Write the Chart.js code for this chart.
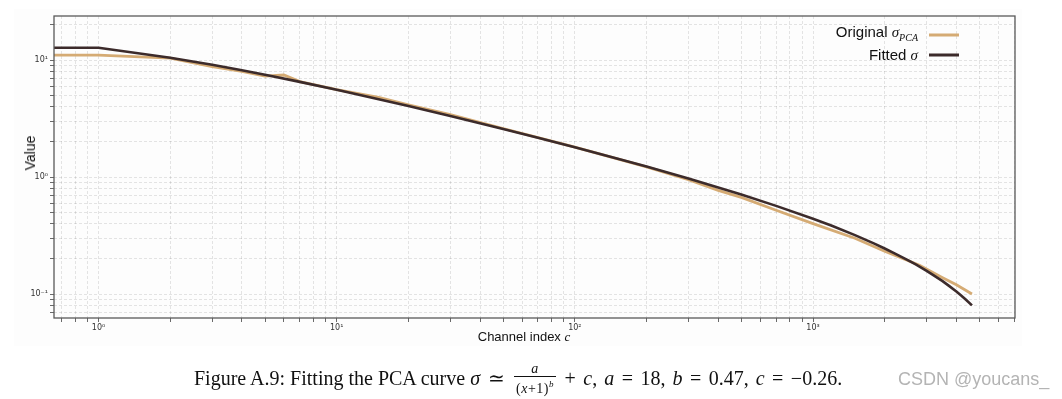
<!DOCTYPE html>
<html>
<head>
<meta charset="utf-8">
<script src="https://cdn.jsdelivr.net/npm/chart.js@4.4.0/dist/chart.umd.min.js"></script>
<style>
  html, body { margin: 0; padding: 0; background: #fff; }
  #wrap { position: relative; width: 1062px; height: 399px; overflow: hidden; }
  #panel { position: absolute; left: 14px; top: 9px; width: 1008px; height: 337px; background: #fdfdfd; }
  #chart { position: absolute; left: 0; top: 0; }
  .sans { font-family: "Liberation Sans", Arial, sans-serif; color: #111; position: absolute; white-space: nowrap; }
  #ytitle { left: 30px; top: 153px; font-size: 14px; transform: translate(-50%, -50%) rotate(-90deg); }
  #xtitle { left: 524px; top: 337px; font-size: 13px; transform: translate(-50%, -50%); }
  .legrow { position: absolute; right: 144px; font-size: 15px; transform: translateY(-50%); }
  .legrow i { font-family: "Liberation Serif", "Times New Roman", serif; }
  .legrow sub { font-size: 10px; font-style: italic; font-family: "Liberation Serif", serif; }
  .swatch { position: absolute; left: 929px; width: 30px; height: 3px; transform: translateY(-50%); }
  #caption { position: absolute; left: 194px; top: 364px; font-family: "Liberation Serif", "Times New Roman", serif; font-size: 20px; color: #111; white-space: nowrap; line-height: 20px; }
  #caption .op { margin: 0 7.5px; }
  #caption .sp { margin-left: 7px; }
  .frac { display: inline-block; vertical-align: middle; text-align: center; font-size: 14px; line-height: 13px; margin: 0 1px 0 2px; position: relative; top: -2px; letter-spacing: 0.5px; }
  .frac .num { display: block; border-bottom: 1px solid #111; padding: 0 2px 1px; }
  .frac .den { display: block; padding: 1px 2px 0; }
  .frac sup { font-size: 9px; }
  #mark { position: absolute; left: 898px; top: 369px; font-family: "Liberation Sans", Arial, sans-serif; font-size: 18px; color: #b4b4b4; white-space: nowrap; }
</style>
</head>
<body>
<div id="wrap">
  <div id="panel"></div>
  <canvas id="chart" width="1062" height="399"></canvas>
  <div id="ytitle" class="sans">Value</div>
  <div id="xtitle" class="sans">Channel index <i style="font-family:'Liberation Serif',serif">c</i></div>
  <div class="sans legrow" style="top:33px">Original <i>σ</i><sub>PCA</sub></div>
  <div class="swatch" style="top:35px;background:#d5ab74"></div>
  <div class="sans legrow" style="top:55px">Fitted <i>σ</i></div>
  <div class="swatch" style="top:55px;background:#3c2b2b"></div>
  <div id="caption">Figure A.9: Fitting the PCA curve <i>σ</i><span class="op">≃</span><span class="frac"><span class="num"><i>a</i></span><span class="den">(<i>x</i>+1)<sup><i>b</i></sup></span></span><span class="op">+</span><i>c</i>,<span class="sp"></span><i>a</i><span class="op">=</span>18,<span class="sp"></span><i>b</i><span class="op">=</span>0.47,<span class="sp"></span><i>c</i><span class="op">=</span>−0.26.</div>
  <div id="mark">CSDN @youcans_</div>
</div>
<script>
// values (log-log axes)
const channelOrig = [0.65, 1, 2, 3, 4, 5, 6, 7, 10, 15, 20, 30, 50, 100, 200, 300, 400, 500, 700, 1000, 1500, 2000, 2800, 3500, 4000, 4650];
const sigmaOrig   = [11.0, 11.0, 10.4, 8.8, 8.0, 7.3, 7.45, 6.55, 5.6, 4.8, 4.15, 3.42, 2.6, 1.8, 1.22, 0.95, 0.77, 0.67, 0.52, 0.40, 0.30, 0.232, 0.176, 0.138, 0.12, 0.10];

const channelFit = [0.65, 1, 2, 3, 4, 5, 7, 10, 15, 20, 30, 50, 70, 100, 150, 200, 300, 500, 700, 1000, 1200, 1500, 1800, 2000, 2200, 2500, 2700, 3000, 3200, 3500, 3700, 4000, 4200, 4400, 4650];
const sigmaFit   = [12.74, 12.74, 10.48, 9.12, 8.19, 7.49, 6.51, 5.57, 4.63, 4.04, 3.32, 2.58, 2.17, 1.80, 1.44, 1.23, 0.97, 0.71, 0.567, 0.44, 0.383, 0.319, 0.271, 0.245, 0.223, 0.195, 0.179, 0.158, 0.145, 0.129, 0.1185, 0.105, 0.0967, 0.089, 0.080];

const xRange = [0.65, 7050];
const yRange = [0.0624, 23.8];
const decades = [0.01, 0.1, 1, 10, 100, 1000];
const superDigits = { '0': '⁰', '1': '¹', '2': '²', '3': '³', '-': '⁻' };

function logTicks(lo, hi) {
    const out = [];
    decades.forEach(d => {
        for (let m = 1; m <= 9; m++) {
            const v = m * d;
            if (v >= lo && v <= hi) out.push({ value: v });
        }
    });
    return out;
}

function powerLabel(value) {
    const e = Math.log10(value);
    if (Math.abs(e - Math.round(e)) > 1e-6) return '';
    const s = String(Math.round(e)).split('').map(c => superDigits[c]).join('');
    return '10' + s;
}

// box around the plot area like matplotlib
const framePlugin = {
    id: 'frame',
    afterDatasetsDraw(chart) {
        const { ctx, chartArea: a } = chart;
        ctx.save();
        ctx.strokeStyle = '#5a5a5a';
        ctx.lineWidth = 1.3;
        ctx.strokeRect(a.left, a.top, a.right - a.left, a.bottom - a.top);
        ctx.restore();
    }
};

const gridOpts = {
    color: 'rgba(0,0,0,0.13)',
    lineWidth: 0.8,
    tickColor: '#444',
    tickLength: 4,
    tickWidth: 0.8
};

new Chart(document.getElementById('chart').getContext('2d'), {
    type: 'scatter',
    data: {
        datasets: [
            {
                label: 'Original',
                data: channelOrig.map((x, i) => ({ x: x, y: sigmaOrig[i] })),
                showLine: true,
                borderColor: '#d5ab74',
                borderWidth: 2.8,
                pointRadius: 0,
                order: 2
            },
            {
                label: 'Fitted',
                data: channelFit.map((x, i) => ({ x: x, y: sigmaFit[i] })),
                showLine: true,
                borderColor: '#3c2b2b',
                borderWidth: 2.6,
                pointRadius: 0,
                order: 1
            }
        ]
    },
    options: {
        responsive: false,
        animation: false,
        devicePixelRatio: 1,
        layout: { padding: { left: 0, top: 16, right: 47, bottom: 67 } },
        plugins: { legend: { display: false }, tooltip: { enabled: false } },
        scales: {
            x: {
                type: 'logarithmic',
                min: xRange[0],
                max: xRange[1],
                afterBuildTicks(scale) { scale.ticks = logTicks(xRange[0], xRange[1]); },
                afterFit(scale) { scale.height = 14; },
                grid: gridOpts,
                border: { display: false, dash: [3, 2] },
                ticks: {
                    autoSkip: false,
                    maxRotation: 0,
                    padding: 1,
                    color: '#333',
                    font: { family: 'DejaVu Sans', size: 8 },
                    callback: v => powerLabel(v)
                }
            },
            y: {
                type: 'logarithmic',
                min: yRange[0],
                max: yRange[1],
                afterBuildTicks(scale) { scale.ticks = logTicks(yRange[0], yRange[1]); },
                afterFit(scale) { scale.width = 54; },
                grid: gridOpts,
                border: { display: false, dash: [3, 2] },
                ticks: {
                    autoSkip: false,
                    padding: 2,
                    color: '#333',
                    font: { family: 'DejaVu Sans', size: 8 },
                    callback: v => powerLabel(v)
                }
            }
        }
    },
    plugins: [framePlugin]
});
</script>
</body>
</html>
